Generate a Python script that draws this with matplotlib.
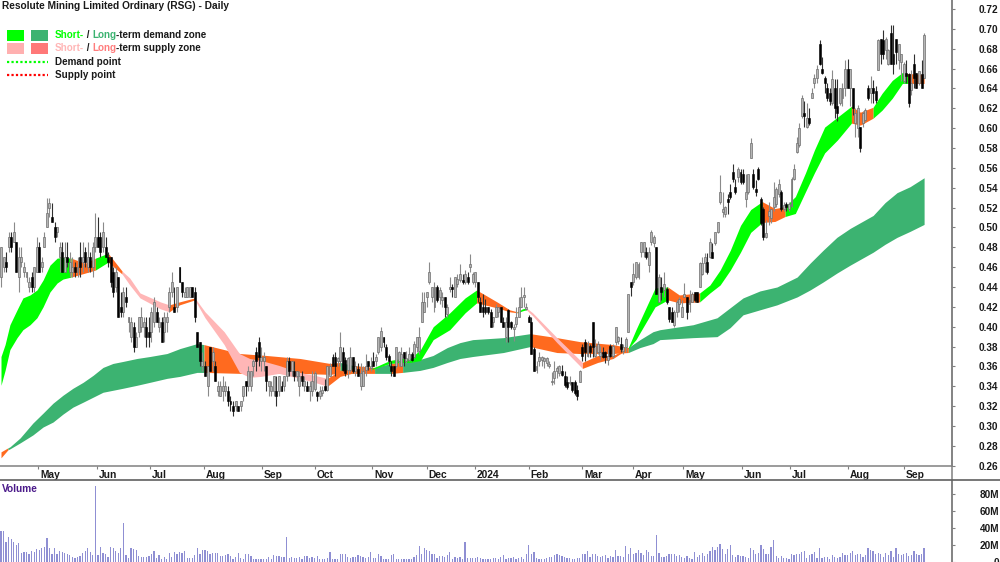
import numpy as np
import matplotlib
matplotlib.use("Agg")
import matplotlib.pyplot as plt
from matplotlib.lines import Line2D
from matplotlib.patches import Rectangle
from matplotlib.transforms import ScaledTranslation

plt.rcParams['font.family'] = ['Liberation Sans', 'DejaVu Sans']

TITLE = "Resolute Mining Limited Ordinary (RSG) - Daily"

# daily candles, one row = 10 bars
opens = [
    .45, .46, .465, .48, .49, .485, .485, .45, .465, .455,
    .45, .44, .45, .44, .455, .48, .46, .48, .50, .52,
    .51, .50, .495, .47, .475, .455, .47, .455, .455, .46,
    .455, .47, .465, .475, .46, .47, .46, .48, .49, .49,
    .48, .48, .47, .47, .455, .44, .45, .42, .415, .43,
    .405, .39, .40, .38, .395, .40, .40, .40, .395, .395,
    .405, .415, .40, .405, .395, .405, .42, .435, .42, .42,
    .46, .445, .43, .43, .43, .44, .435, .395, .385, .36,
    .36, .34, .38, .365, .36, .335, .33, .335, .335, .335,
    .325, .32, .32, .32, .32, .33, .345, .34, .34, .36,
    .375, .385, .365, .365, .36, .34, .335, .335, .335, .335,
    .34, .34, .35, .365, .355, .355, .35, .34, .35, .34,
    .34, .335, .335, .337, .334, .33, .333, .34, .336, .35,
    .37, .37, .365, .365, .375, .366, .356, .356, .37, .355,
    .357, .34, .34, .356, .365, .358, .365, .365, .375, .38,
    .39, .38, .371, .36, .36, .36, .365, .36, .375, .365,
    .366, .373, .37, .38, .376, .405, .415, .43, .445, .43,
    .42, .44, .43, .427, .43, .413, .438, .44, .43, .443,
    .447, .447, .445, .45, .46, .445, .445, .445, .425, .42,
    .42, .42, .415, .405, .41, .415, .42, .405, .39, .417,
    .405, .398, .403, .41, .42, .43, .418, .41, .405, .378,
    .356, .365, .366, .365, .363, .36, .344, .348, .355, .353,
    .355, .35, .344, .343, .344, .344, .336, .344, .38, .385,
    .371, .381, .405, .371, .375, .371, .375, .375, .366, .381,
    .371, .385, .386, .383, .376, .38, .395, .445, .445, .45,
    .45, .475, .475, .475, .462, .485, .484, .48, .425, .44,
    .437, .438, .42, .415, .402, .415, .423, .41, .43, .43,
    .423, .425, .435, .435, .44, .453, .464, .465, .47, .475,
    .484, .495, .526, .516, .514, .529, .536, .556, .541, .551,
    .556, .554, .529, .536, .57, .554, .539, .559, .529, .519,
    .49, .511, .509, .521, .524, .534, .536, .519, .524, .519,
    .522, .549, .576, .583, .612, .615, .601, .61, .63, .645,
    .65, .685, .66, .65, .64, .635, .625, .64, .622, .625,
    .63, .64, .66, .64, .64, .605, .60, .601, .605, .608,
    .64, .635, .64, .637, .659, .69, .689, .679, .665, .696,
    .675, .69, .669, .667, .647, .655, .654, .638, .665, .655,
    .645, .654, .65,
]
highs = [
    .48, .47, .475, .495, .495, .505, .485, .48, .48, .465,
    .455, .45, .455, .46, .49, .485, .47, .495, .53, .53,
    .525, .505, .50, .485, .485, .485, .485, .475, .47, .465,
    .47, .485, .485, .48, .485, .475, .485, .515, .51, .495,
    .505, .49, .475, .47, .46, .46, .45, .435, .44, .44,
    .41, .41, .405, .395, .41, .42, .41, .41, .41, .42,
    .43, .42, .41, .41, .415, .415, .44, .455, .44, .44,
    .46, .445, .44, .44, .44, .44, .44, .395, .385, .375,
    .365, .36, .38, .38, .365, .345, .345, .35, .345, .34,
    .33, .325, .325, .32, .325, .34, .345, .36, .355, .367,
    .38, .39, .38, .375, .36, .345, .345, .35, .35, .35,
    .345, .35, .37, .37, .365, .365, .355, .355, .355, .35,
    .345, .345, .355, .355, .335, .34, .34, .347, .36, .363,
    .373, .375, .37, .395, .38, .37, .37, .38, .37, .365,
    .363, .363, .36, .373, .365, .37, .375, .373, .39, .40,
    .39, .383, .373, .365, .36, .38, .376, .38, .375, .376,
    .38, .375, .386, .39, .40, .435, .435, .435, .465, .44,
    .445, .442, .44, .435, .43, .423, .45, .443, .45, .453,
    .463, .453, .457, .455, .473, .455, .455, .445, .43, .433,
    .428, .42, .418, .41, .423, .42, .42, .41, .41, .418,
    .406, .403, .42, .43, .44, .44, .424, .412, .41, .38,
    .365, .375, .371, .37, .37, .365, .354, .365, .36, .361,
    .361, .355, .35, .35, .344, .346, .341, .356, .383, .388,
    .386, .383, .405, .388, .386, .381, .38, .376, .378, .383,
    .383, .40, .391, .39, .383, .39, .433, .445, .464, .465,
    .465, .485, .485, .48, .48, .497, .492, .48, .453, .45,
    .455, .44, .42, .42, .417, .427, .43, .427, .444, .43,
    .437, .435, .435, .435, .465, .47, .474, .474, .489, .484,
    .495, .505, .553, .536, .522, .534, .544, .564, .549, .561,
    .559, .559, .554, .554, .59, .559, .548, .561, .531, .521,
    .507, .526, .519, .546, .541, .549, .538, .526, .526, .526,
    .551, .564, .591, .605, .633, .627, .625, .62, .64, .654,
    .664, .689, .672, .652, .645, .64, .659, .649, .649, .64,
    .645, .669, .67, .66, .64, .62, .623, .601, .617, .62,
    .643, .652, .648, .642, .69, .69, .699, .692, .68, .704,
    .704, .69, .685, .675, .667, .669, .655, .659, .675, .655,
    .657, .669, .696,
]
lows = [
    .44, .455, .455, .475, .475, .485, .455, .435, .46, .45,
    .445, .435, .435, .435, .455, .455, .455, .48, .50, .51,
    .505, .485, .49, .455, .455, .455, .46, .45, .45, .45,
    .45, .45, .455, .46, .455, .455, .45, .475, .48, .47,
    .475, .47, .46, .44, .43, .435, .41, .41, .41, .42,
    .395, .385, .375, .38, .39, .395, .39, .38, .38, .385,
    .40, .405, .395, .385, .385, .395, .415, .43, .415, .415,
    .445, .43, .43, .43, .43, .43, .405, .38, .36, .355,
    .35, .33, .355, .355, .345, .33, .33, .325, .33, .32,
    .315, .31, .315, .315, .315, .325, .33, .335, .335, .35,
    .355, .36, .355, .355, .335, .33, .33, .33, .32, .33,
    .335, .335, .345, .35, .35, .345, .345, .33, .34, .335,
    .335, .325, .33, .335, .325, .327, .33, .335, .335, .35,
    .36, .35, .36, .36, .355, .35, .348, .354, .353, .35,
    .35, .336, .34, .35, .356, .355, .36, .36, .373, .376,
    .38, .366, .36, .35, .35, .358, .36, .36, .36, .363,
    .365, .365, .368, .375, .373, .405, .415, .42, .443, .425,
    .415, .425, .423, .42, .41, .41, .435, .43, .43, .44,
    .445, .443, .443, .443, .455, .443, .44, .425, .415, .41,
    .413, .413, .40, .40, .41, .41, .405, .40, .385, .385,
    .398, .386, .40, .41, .42, .42, .417, .405, .373, .355,
    .353, .36, .36, .358, .36, .358, .341, .342, .348, .35,
    .35, .339, .337, .341, .334, .331, .326, .344, .365, .365,
    .37, .37, .37, .37, .373, .366, .368, .363, .361, .37,
    .368, .382, .383, .375, .373, .375, .395, .431, .442, .448,
    .448, .47, .47, .468, .455, .482, .48, .433, .425, .427,
    .43, .423, .405, .405, .40, .41, .415, .41, .43, .408,
    .415, .425, .425, .425, .44, .452, .455, .453, .469, .469,
    .482, .494, .524, .51, .51, .514, .529, .546, .534, .546,
    .544, .544, .521, .534, .57, .539, .532, .548, .502, .487,
    .489, .502, .504, .517, .521, .531, .517, .517, .517, .517,
    .521, .548, .575, .581, .61, .601, .60, .603, .63, .64,
    .645, .664, .654, .635, .627, .623, .623, .61, .607, .623,
    .622, .632, .64, .622, .613, .591, .591, .576, .601, .607,
    .628, .625, .625, .625, .659, .665, .67, .67, .664, .665,
    .654, .665, .66, .647, .645, .645, .621, .633, .64, .64,
    .643, .64, .65,
]
closes = [
    .48, .47, .46, .49, .48, .495, .455, .47, .47, .46,
    .455, .445, .44, .46, .48, .455, .465, .49, .515, .525,
    .505, .49, .50, .48, .455, .47, .465, .465, .46, .455,
    .46, .46, .47, .465, .47, .46, .48, .49, .48, .475,
    .495, .47, .465, .445, .435, .455, .41, .415, .435, .425,
    .41, .405, .38, .39, .41, .41, .405, .39, .39, .415,
    .425, .405, .405, .385, .41, .41, .435, .445, .415, .44,
    .445, .435, .435, .44, .44, .43, .41, .38, .365, .365,
    .35, .36, .355, .375, .345, .34, .34, .34, .34, .325,
    .322, .315, .325, .315, .325, .34, .34, .355, .355, .365,
    .365, .37, .37, .37, .345, .345, .34, .35, .33, .35,
    .335, .35, .365, .355, .365, .35, .355, .35, .345, .345,
    .335, .34, .345, .353, .33, .335, .336, .336, .36, .36,
    .36, .36, .368, .38, .356, .353, .368, .37, .355, .36,
    .35, .353, .355, .36, .36, .36, .36, .37, .39, .396,
    .385, .37, .365, .355, .35, .38, .375, .373, .368, .368,
    .373, .366, .383, .39, .39, .425, .425, .435, .455, .44,
    .44, .427, .437, .43, .42, .42, .44, .438, .45, .448,
    .453, .445, .453, .445, .463, .453, .455, .43, .415, .415,
    .415, .415, .40, .41, .42, .42, .405, .40, .405, .40,
    .40, .40, .41, .42, .43, .432, .42, .405, .373, .355,
    .36, .37, .37, .368, .368, .362, .345, .355, .358, .36,
    .351, .341, .339, .344, .336, .333, .33, .355, .371, .375,
    .383, .375, .38, .381, .383, .375, .37, .37, .371, .371,
    .381, .40, .39, .378, .38, .388, .433, .44, .453, .465,
    .463, .485, .485, .47, .475, .495, .49, .433, .45, .435,
    .443, .425, .408, .405, .415, .425, .428, .42, .433, .415,
    .427, .433, .427, .425, .464, .464, .47, .455, .485, .469,
    .495, .505, .536, .519, .521, .526, .531, .549, .536, .559,
    .546, .546, .536, .554, .585, .541, .536, .549, .504, .49,
    .494, .517, .519, .531, .539, .544, .519, .523, .521, .524,
    .549, .559, .585, .60, .63, .612, .61, .605, .635, .65,
    .66, .665, .655, .645, .63, .627, .649, .62, .615, .64,
    .64, .66, .64, .66, .62, .615, .62, .58, .615, .618,
    .63, .64, .635, .628, .689, .675, .675, .69, .679, .665,
    .665, .677, .685, .675, .665, .652, .625, .645, .65, .64,
    .657, .64, .694,
]

# volume in millions
volumes = [
    36, 36, 23, 30, 27, 24, 20, 22, 11, 12,
    12, 10, 13, 12, 15, 14, 17, 18, 28, 17,
    10, 16, 10, 13, 12, 11, 10, 8, 6, 5,
    6, 7, 11, 13, 16, 12, 8, 90, 8, 18,
    11, 10, 6, 18, 16, 13, 11, 16, 46, 8,
    5, 16, 15, 14, 7, 6, 6, 6, 7, 10,
    13, 5, 8, 3, 6, 4, 11, 6, 12, 10,
    12, 11, 13, 5, 5, 5, 8, 17, 10, 14,
    14, 13, 9, 11, 11, 11, 7, 7, 8, 9,
    7, 4, 6, 11, 5, 4, 10, 10, 7, 3,
    4, 4, 3, 4, 4, 6, 3, 8, 7, 7,
    6, 6, 30, 5, 6, 5, 5, 6, 3, 7,
    7, 5, 6, 5, 7, 3, 3, 3, 5, 12,
    4, 4, 4, 9, 9, 10, 6, 5, 6, 6,
    8, 7, 6, 5, 6, 12, 5, 5, 10, 7,
    3, 3, 4, 8, 9, 4, 3, 3, 4, 3,
    3, 4, 6, 8, 19, 10, 16, 14, 13, 9,
    10, 5, 7, 7, 6, 8, 12, 4, 6, 5,
    6, 4, 23, 5, 5, 5, 5, 6, 5, 4,
    4, 4, 3, 5, 5, 4, 6, 8, 4, 5,
    5, 6, 4, 5, 6, 4, 9, 20, 9, 12,
    5, 4, 4, 4, 5, 6, 6, 8, 9, 8,
    7, 6, 5, 5, 4, 3, 5, 5, 9, 10,
    13, 6, 9, 10, 7, 6, 7, 8, 5, 7,
    6, 14, 7, 7, 6, 19, 10, 16, 10, 11,
    14, 11, 8, 14, 12, 7, 7, 32, 11, 6,
    6, 7, 10, 10, 10, 7, 8, 6, 5, 7,
    5, 3, 12, 6, 8, 11, 7, 9, 13, 18,
    14, 18, 21, 15, 10, 15, 20, 8, 6, 8,
    7, 7, 6, 5, 17, 14, 9, 11, 20, 15,
    9, 9, 18, 26, 7, 5, 7, 5, 5, 3,
    9, 8, 9, 10, 12, 13, 5, 8, 9, 12,
    5, 17, 5, 6, 6, 3, 8, 6, 5, 6,
    11, 8, 8, 11, 13, 8, 9, 9, 6, 8,
    17, 14, 13, 10, 11, 9, 6, 11, 8, 13,
    6, 17, 10, 8, 9, 11, 7, 8, 13, 9,
    8, 10, 16,
]

# short-term band read at bar positions
short_pos = [
    0, 1.6, 3.5, 6.3, 8.6, 11.4, 14.1, 16.5, 19.2, 22, 24.3,
    27.5, 33, 37, 42, 47.5, 50.5, 54.5, 62.5, 66, 70, 76, 80, 87.5,
    93.5, 97.5, 102, 109, 117, 123, 128, 133, 139, 145.5,
    152.5, 157, 160.5, 164.5, 169.5, 176, 182, 186.5, 194.5, 199.5,
    202.5, 204.5, 206, 208.5, 218, 228, 234, 240, 246, 249,
    256.5, 261.5, 266, 274, 278, 282, 286, 290, 294, 298.5,
    303.5, 307.5, 311.5, 315.5, 319, 323, 328, 333.5, 337, 342,
    345.5, 349.5, 353.5, 355.5, 362,
]
short_top = [
    .370, .382, .402, .417, .429, .432, .437, .447, .462, .469, .470,
    .469, .464, .469, .474, .456, .449, .434, .425, .422, .425, .429, .415, .395,
    .373, .368, .366, .361, .354, .351, .348, .356, .358, .358,
    .366, .368, .368, .377, .400, .414, .429, .437, .425, .417,
    .415, .418, .419, .414, .389, .364, .371, .371, .379, .397,
    .439, .440, .432, .434, .442, .457, .477, .502, .518, .526,
    .519, .521, .531, .555, .578, .601, .611, .622, .616, .621,
    .635, .648, .656, .655, .654,
]
short_bot = [
    .341, .356, .377, .389, .397, .402, .409, .420, .435, .444, .448,
    .450, .454, .457, .465, .453, .442, .429, .418, .415, .422, .427, .409, .382,
    .354, .349, .350, .353, .348, .344, .340, .350, .354, .357,
    .363, .364, .364, .366, .387, .397, .414, .424, .419, .415,
    .414, .416, .417, .411, .384, .358, .364, .368, .378, .387,
    .420, .427, .424, .425, .434, .442, .457, .475, .495, .505,
    .506, .511, .514, .536, .555, .575, .588, .605, .603, .610,
    .618, .630, .645, .645, .645,
]
short_breaks = [0, 27.5, 37, 42, 47.5, 66, 76, 128, 145.5, 186.5, 202.5, 206, 228, 246, 261.5, 274, 298.5, 307.5, 333.5, 342, 355.5, 362]
short_zones = ['up', 'cross', 'up', 'cross', 'down', 'cross', 'down', 'cross', 'up', 'cross', 'up', 'down', 'cross', 'up', 'cross', 'up', 'cross', 'up', 'cross', 'up', 'cross']

# long-term band
long_pos = [
    0, 2.7, 3.5, 7.5, 12.5, 16.5, 20.4, 24.3, 28.2, 32.2,
    36.1, 40, 43.9, 47.8, 53.3, 58.4, 65.1, 70.2, 76.9,
    79.6, 93.7, 104.3, 117.3, 129, 133, 138, 146.5, 153, 157.5,
    164.3, 169.4, 175, 180, 185, 197, 207.5, 218, 227, 240, 246, 250.6,
    255.7, 258.4, 271.4, 280.8, 285.9, 291, 297.6, 304.3, 312.2, 317.3,
    322.4, 327.8, 333, 342, 346.7, 351.4, 356.5, 362,
]
long_top = [
    .274, .278, .279, .288, .303, .313, .323, .331, .338, .344,
    .351, .359, .363, .365, .368, .370, .373, .378, .383,
    .382, .373, .371, .368, .363, .364, .361, .359, .363, .365,
    .367, .371, .379, .384, .387, .389, .393, .389, .385, .382, .379, .387,
    .395, .397, .402, .409, .419, .429, .436, .440, .450, .464,
    .477, .490, .499, .512, .525, .535, .541, .550,
]
long_bot = [
    .268, .276, .277, .283, .291, .299, .304, .312, .319, .324,
    .329, .334, .336, .338, .341, .344, .348, .350, .354,
    .354, .353, .353, .353, .352, .353, .353, .353, .353, .354,
    .356, .359, .364, .368, .370, .374, .380, .374, .373, .373, .374, .379,
    .383, .387, .389, .390, .399, .412, .417, .422, .430, .437,
    .445, .454, .462, .475, .483, .490, .496, .503,
]
long_breaks = [0, 2.7, 79.6, 133, 138, 146.5, 153, 157.5, 207.5, 246, 362]
long_zones = ['cross', 'up', 'cross', 'up', 'cross', 'up', 'cross', 'up', 'cross', 'up']

month_pos = [14.5, 37.6, 58.4, 79.6, 102.4, 123.1, 145.5, 167, 185.9, 207, 227.8, 247.8, 267.5, 290.6, 309.4, 332.2, 354.1]
month_labels = ['May', 'Jun', 'Jul', 'Aug', 'Sep', 'Oct', 'Nov', 'Dec', '2024', 'Feb', 'Mar', 'Apr', 'May', 'Jun', 'Jul', 'Aug', 'Sep']
price_ticks = [round(.26 + .02 * k, 2) for k in range(24)]
volume_ticks = [0, 20, 40, 60, 80]

GREEN = '#00ff00'
DARK_GREEN = '#3cb371'
ORANGE = '#ff6a1f'
PINK = '#ffb6b6'
SALMON = '#ff7d7d'
GRID = '#808080'
TEXT = '#1a1a1a'
LONG_ZONE_COLOR = {'up': DARK_GREEN, 'cross': ORANGE}
SHORT_ZONE_COLOR = {'up': GREEN, 'cross': ORANGE, 'down': PINK}

W, H = 1000, 562
fig = plt.figure(figsize=(W / 100, H / 100), dpi=100)

PANEL_R = 952 / W
ax = fig.add_axes([0, 1 - 466 / H, PANEL_R, 466 / H])
axv = fig.add_axes([0, 0, PANEL_R, 1 - 481 / H], sharex=ax)

X0 = -1 / 2.55
ax.set_xlim(X0, X0 + 952 / 2.55)
ax.set_ylim(.729 - .001007 * 466, .729)
axv.set_ylim(0, 81 / 17 * 20)


def draw_band(pos, top, bot, breaks, zones, colors):
    pos, top, bot = np.array(pos), np.array(top), np.array(bot)
    for k, zone in enumerate(zones):
        mask = (pos >= breaks[k]) & (pos <= breaks[k + 1])
        ax.fill_between(pos[mask], bot[mask], top[mask], color=colors[zone], lw=0, zorder=2)


draw_band(long_pos, long_top, long_bot, long_breaks, long_zones, LONG_ZONE_COLOR)
draw_band(short_pos, short_top, short_bot, short_breaks, short_zones, SHORT_ZONE_COLOR)

o = np.array(opens)
h = np.array(highs)
l = np.array(lows)
c = np.array(closes)
idx = np.arange(len(o))
up = c >= o

ax.vlines(idx[up], l[up], h[up], color='#8a8a8a', lw=0.8, zorder=3)
ax.vlines(idx[~up], l[~up], h[~up], color='#303030', lw=0.8, zorder=3)
ax.bar(idx[up], (c - o)[up], bottom=o[up], width=0.75, facecolor='#b5b5b5', edgecolor='#6e6e6e', lw=0.5, zorder=4)
ax.bar(idx[~up], (c - o)[~up], bottom=o[~up], width=0.75, facecolor='black', edgecolor='black', lw=0.4, zorder=4)

axv.bar(np.arange(len(volumes)), volumes, width=0.5, color='#8f8fd3', lw=0)

for a in (ax, axv):
    for side in ('left', 'top'):
        a.spines[side].set_visible(False)
    a.spines['right'].set_color(GRID)
    a.spines['right'].set_linewidth(1.1)
    a.yaxis.tick_right()

ax.spines['bottom'].set_color(GRID)
ax.spines['bottom'].set_linewidth(1.1)
axv.spines['bottom'].set_visible(False)

ax.set_yticks(price_ticks)
ax.set_yticklabels([f'{v:.2f}' for v in price_ticks], fontweight='bold', fontsize=7.2, color=TEXT)
ax.tick_params(axis='y', length=2.5, width=0.8, color=GRID, pad=17)
ax.set_xticks(month_pos)
ax.set_xticklabels(month_labels, fontweight='bold', fontsize=7.4, color=TEXT, ha='left')
ax.tick_params(axis='x', length=2.5, width=0.8, color=GRID, pad=0.5)
shift = ScaledTranslation(2 / 100, 0, fig.dpi_scale_trans)
for lab in ax.get_xticklabels():
    lab.set_transform(lab.get_transform() + shift)

axv.set_yticks(volume_ticks)
axv.set_yticklabels(['0', '20M', '40M', '60M', '80M'], fontweight='bold', fontsize=7.2, color=TEXT, ha='right')
axv.tick_params(axis='y', length=2.5, width=0.8, color=GRID, pad=31.5)
axv.tick_params(axis='x', length=0, labelbottom=False)

# right spine runs through the gap between the panels
fig.add_artist(Line2D([PANEL_R, PANEL_R], [0, 1], color=GRID, lw=1.1))
fig.add_artist(Line2D([0, 1], [1 - 480 / H, 1 - 480 / H], color='#606060', lw=1.2))


def px(x, y):
    return x / W, 1 - y / H


# header and legend
fig.text(*px(2, 6), TITLE, fontsize=7.3, fontweight='bold', color=TEXT, va='center')
fig.text(*px(2, 489), 'Volume', fontsize=7.3, fontweight='bold', color='#4b1a8a', va='center')

for x, y, color in [(7, 30, GREEN), (31, 30, DARK_GREEN), (7, 43, '#ffb0b0'), (31, 43, '#ff7878')]:
    fig.add_artist(Rectangle(px(x, y + 10.5), 17 / W, 10.5 / H, transform=fig.transFigure, facecolor=color, lw=0))

for y, color in [(62, GREEN), (75, '#ff0000')]:
    fig.add_artist(Line2D([7 / W, 48 / W], [1 - y / H] * 2, color=color, lw=1.6, linestyle=(0, (1, 1))))

renderer = fig.canvas.get_renderer()


def chain_text(x, y, parts):
    for part, color in parts:
        t = fig.text(*px(x, y), part, fontsize=7.1, fontweight='bold', color=color, va='center')
        x = t.get_window_extent(renderer).x1


chain_text(55, 35, [('Short-', GREEN), ('\u00a0/\u00a0', TEXT), ('Long', DARK_GREEN), ('-term demand zone', TEXT)])
chain_text(55, 48, [('Short-', PINK), ('\u00a0/\u00a0', TEXT), ('Long', SALMON), ('-term supply zone', TEXT)])
chain_text(55, 62, [('Demand point', TEXT)])
chain_text(55, 75, [('Supply point', TEXT)])

fig.savefig('out.png', dpi=100)
